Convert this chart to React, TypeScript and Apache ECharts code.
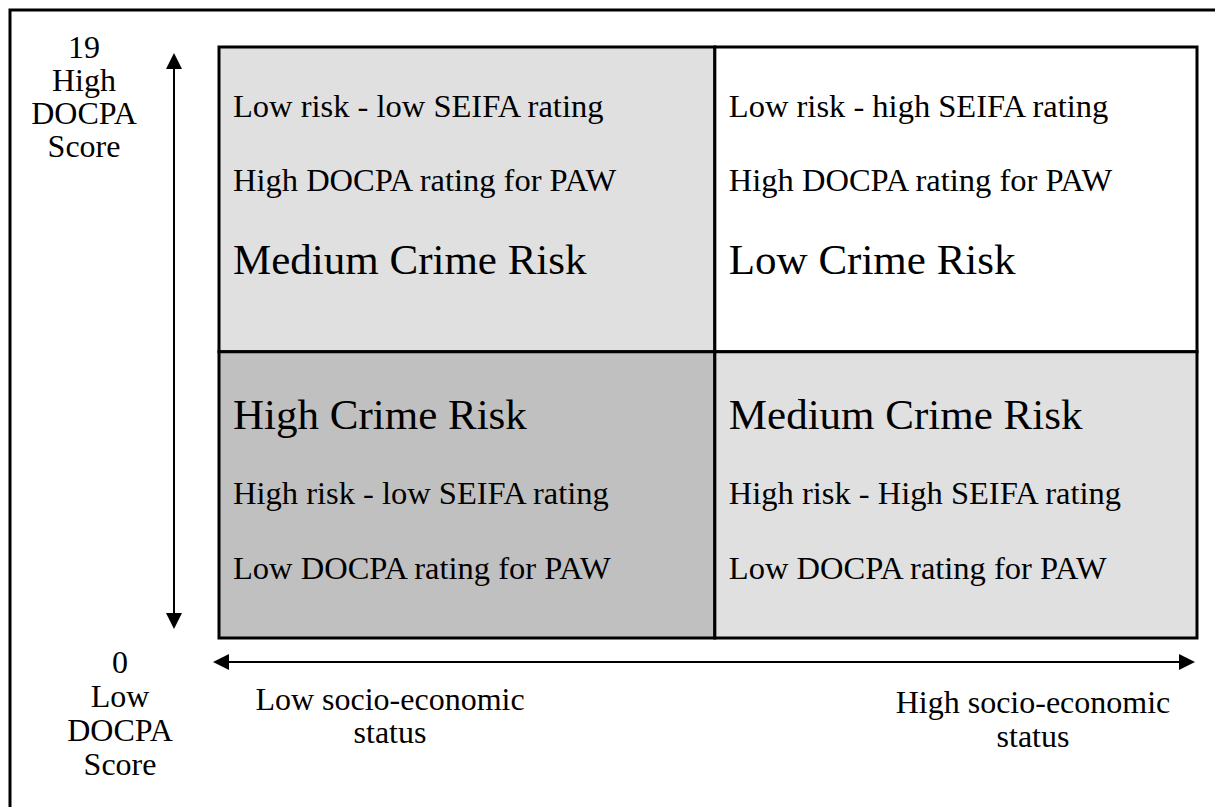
import React, { useEffect, useRef } from "react";
import * as echarts from "echarts";

// ---- data ----
const docpaMin = 0;
const docpaMax = 19;
const socioMin = 0;
const socioMax = 100;
// boundaries of the quadrants (socio-economic %, DOCPA score)
const socioBounds = [0, 50.7, 100];
const docpaBounds = [0, 9.2, 19];

// cells: x band index (socio), y band index (docpa)
const cellSocio = [0, 1, 0, 1];
const cellDocpa = [1, 1, 0, 0];
const cellRisk = ["Medium Crime Risk", "Low Crime Risk", "High Crime Risk", "Medium Crime Risk"];
const cellLine1 = [
  "Low risk - low SEIFA rating",
  "Low risk - high SEIFA rating",
  "High risk - low SEIFA rating",
  "High risk - High SEIFA rating",
];
const cellLine2 = [
  "High DOCPA rating for PAW",
  "High DOCPA rating for PAW",
  "Low DOCPA rating for PAW",
  "Low DOCPA rating for PAW",
];
const yLabelsHigh = [String(docpaMax), "High", "DOCPA", "Score"];
const yLabelsLow = [String(docpaMin), "Low", "DOCPA", "Score"];
const xLabelsLow = ["Low socio-economic", "status"];
const xLabelsHigh = ["High socio-economic", "status"];

const riskColors: Record<string, string> = {
  "High Crime Risk": "#c0c0c0",
  "Medium Crime Risk": "#e0e0e0",
  "Low Crime Risk": "#ffffff",
};

const FONT = "'Liberation Serif', 'Times New Roman', Times, serif";

export default function App() {
  const ref = useRef<HTMLDivElement>(null);

  useEffect(() => {
    if (!ref.current) return;
    const chart = echarts.init(ref.current, null, { renderer: "svg" });

    const data = cellSocio.map((xi, i) => [
      socioBounds[xi],
      socioBounds[xi + 1],
      docpaBounds[cellDocpa[i]],
      docpaBounds[cellDocpa[i] + 1],
      i,
    ]);

    const txt = (x: number, y: number, text: string, size: number, align = "left") => ({
      type: "text",
      x,
      y,
      style: {
        text,
        fill: "#000",
        fontFamily: FONT,
        fontSize: size,
        align,
        verticalAlign: "middle",
      },
    });

    const stackText = (cx: number, y0: number, lines: string[], lh: number) =>
      lines.map((l, i) => txt(cx, y0 + i * lh, l, 32, "center"));

    const option: any = {
      animation: false,
      backgroundColor: "#ffffff",
      grid: { left: 219, top: 47, width: 978, height: 591, containLabel: false },
      xAxis: { type: "value", min: socioMin, max: socioMax, show: false },
      yAxis: { type: "value", min: docpaMin, max: docpaMax, show: false },
      series: [
        {
          type: "custom",
          data,
          renderItem: (params: any, api: any) => {
            const idx = api.value(4);
            const tl = api.coord([api.value(0), api.value(3)]);
            const br = api.coord([api.value(1), api.value(2)]);
            const x0 = tl[0];
            const y0 = tl[1];
            const w = br[0] - tl[0];
            const h = br[1] - tl[1];
            const tx = x0 + 14;
            const risk = cellRisk[idx];
            const children: any[] = [
              {
                type: "rect",
                shape: { x: x0, y: y0, width: w, height: h },
                style: { fill: riskColors[risk], stroke: "#000", lineWidth: 3 },
              },
            ];
            if (cellDocpa[idx] === 1) {
              children.push(txt(tx, y0 + 59, cellLine1[idx], 32.5));
              children.push(txt(tx, y0 + 133, cellLine2[idx], 32.5));
              children.push(txt(tx, y0 + 212, risk, 43));
            } else {
              children.push(txt(tx, y0 + 63, risk, 43));
              children.push(txt(tx, y0 + 141, cellLine1[idx], 32.5));
              children.push(txt(tx, y0 + 216, cellLine2[idx], 32.5));
            }
            return { type: "group", children };
          },
        },
      ],
      graphic: [
        // outer frame
        {
          type: "rect",
          shape: { x: 10, y: 10, width: 1220, height: 820 },
          style: { fill: "none", stroke: "#000", lineWidth: 3 },
          silent: true,
        },
        // vertical arrow
        { type: "line", shape: { x1: 174, y1: 66, x2: 174, y2: 616 }, style: { stroke: "#000", lineWidth: 2 } },
        { type: "polygon", shape: { points: [[174, 53], [166, 69], [182, 69]] }, style: { fill: "#000" } },
        { type: "polygon", shape: { points: [[174, 629], [166, 613], [182, 613]] }, style: { fill: "#000" } },
        // horizontal arrow
        { type: "line", shape: { x1: 226, y1: 662, x2: 1182, y2: 662 }, style: { stroke: "#000", lineWidth: 2 } },
        { type: "polygon", shape: { points: [[213, 662], [229, 654], [229, 670]] }, style: { fill: "#000" } },
        { type: "polygon", shape: { points: [[1195, 662], [1179, 654], [1179, 670]] }, style: { fill: "#000" } },
        // y labels
        ...stackText(84, 47, yLabelsHigh, 33),
        ...stackText(120, 662, yLabelsLow, 34),
        // x labels
        ...stackText(390, 699, xLabelsLow, 33),
        ...stackText(1033, 702, xLabelsHigh, 34),
      ],
    };

    chart.setOption(option);
    return () => chart.dispose();
  }, []);

  return (
    <div
      ref={ref}
      style={{ position: "fixed", left: 0, top: 0, width: 1215, height: 807, background: "#fff" }}
    />
  );
}
